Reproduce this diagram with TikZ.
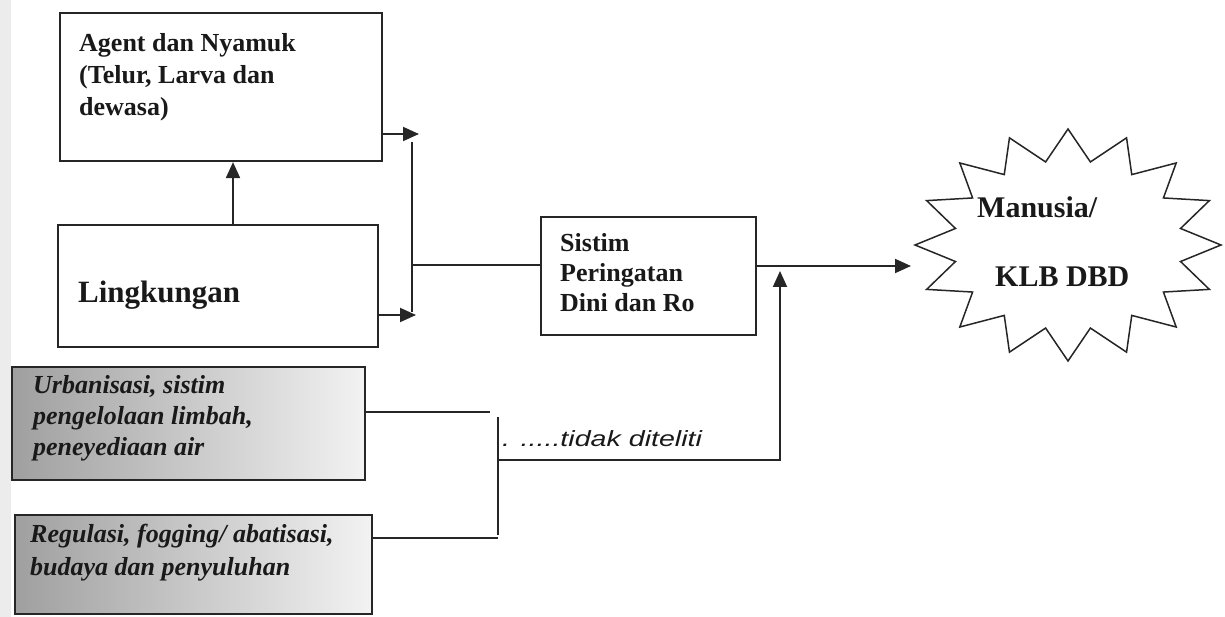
\documentclass[tikz,border=0pt]{standalone}
\usepackage{graphicx}
\usepackage{fontspec}
\setmainfont{Liberation Serif}
\newfontfamily\sansfnt{Liberation Sans}
\usetikzlibrary{arrows.meta}
\begin{document}
\begin{tikzpicture}[x=1pt,y=-1pt,
  box/.style={draw=black!85, line width=2.2pt, inner sep=0pt},
  graybox/.style={box, left color=gray!75, middle color=gray!50, right color=gray!10},
  conn/.style={draw=black!85, line width=1.9pt},
  arr/.style={conn, -{Triangle[length=16pt,width=14pt]}},
  txt/.style={inner sep=0pt, anchor=base west, text=black!90},
  starline/.style={draw=black!85, line width=1.5pt, line join=miter},
]
\useasboundingbox (0,0) rectangle (1225,617);
\fill[gray!15] (0,0) rectangle (11,617);

% boxes
\node[box, minimum width=322pt, minimum height=148pt] (agent) at (221,87) {};
\node[box, minimum width=320pt, minimum height=122pt] (ling) at (218,286) {};
\node[box, minimum width=215pt, minimum height=118pt] (sistim) at (648.5,276) {};
\node[graybox, minimum width=353pt, minimum height=113pt] (urb) at (188.5,423.5) {};
\node[graybox, minimum width=357pt, minimum height=99pt] (reg) at (193.5,564.5) {};

% star
\node[inner sep=0pt] (star) at (1068,245) {};
\draw[starline] plot[samples at={0,...,31}, variable=\k]
  ({1068+(1-0.25*mod(\k,2))*153*cos(\k*11.25+180)},
   {245+(1-0.27*mod(\k,2))*116*sin(\k*11.25+180)}) -- cycle;

% texts
\node[txt, font=\fontsize{26}{32}\selectfont\bfseries] (agentT) at (79,52)
  {\parbox[t]{300pt}{Agent dan Nyamuk\\(Telur, Larva dan\\dewasa)}};
\node[txt, font=\fontsize{31}{36}\selectfont\bfseries] (lingT) at (78,303) {Lingkungan};
\node[txt, font=\fontsize{26}{30}\selectfont\bfseries] (sistimT) at (560,252)
  {\parbox[t]{190pt}{Sistim\\Peringatan\\Dini dan Ro}};
\node[txt, font=\fontsize{26}{31}\selectfont\bfseries\itshape] (urbT) at (33,393)
  {\parbox[t]{330pt}{Urbanisasi, sistim\\pengelolaan limbah,\\peneyediaan air}};
\node[txt, font=\fontsize{26}{33}\selectfont\bfseries\itshape] (regT) at (30,542)
  {\parbox[t]{340pt}{Regulasi, fogging/ abatisasi,\\budaya dan penyuluhan}};
\node[txt, font=\fontsize{30}{36}\selectfont\bfseries] (manT) at (977,218) {Manusia/};
\node[txt, font=\fontsize{30}{36}\selectfont\bfseries] (klbT) at (995,287) {KLB DBD};
\node[txt, font=\sansfnt\itshape\fontsize{22}{26}\selectfont] (tidakT) at (502,446)
  {\scalebox{1.3}[1]{. .....tidak diteliti}};

% coordinates
\coordinate (upx) at (233,200);
\coordinate (agentTip) at (419,134);
\coordinate (lingTip) at (416,315);
\coordinate (vTop) at (412,142);
\coordinate (vBot) at (412,312);
\coordinate (vMid) at (412,265);
\coordinate (starL) at (911,266);
\coordinate (fbL) at (498,460);
\coordinate (fbR) at (780,460);
\coordinate (fbTip) at (780,271);
\coordinate (brT) at (498,417);
\coordinate (brB) at (498,535);
\coordinate (u1) at (490,412);
\coordinate (r1) at (498,538);

% connectors
\draw[arr] (ling.north -| upx) -- (agent.south -| upx);
\draw[arr] (agent.east |- agentTip) -- (agentTip);
\draw[arr] (ling.east |- lingTip) -- (lingTip);
\draw[conn] (vTop) -- (vBot);
\draw[conn] (vMid) -- (sistim.west |- vMid);
\draw[arr] (sistim.east |- starL) -- (starL);
\draw[arr] (fbL) -- (fbR) -- (fbTip);
\draw[conn] (brT) -- (brB);
\draw[conn] (urb.east |- u1) -- (u1);
\draw[conn] (reg.east |- r1) -- (r1);
\end{tikzpicture}
\end{document}
